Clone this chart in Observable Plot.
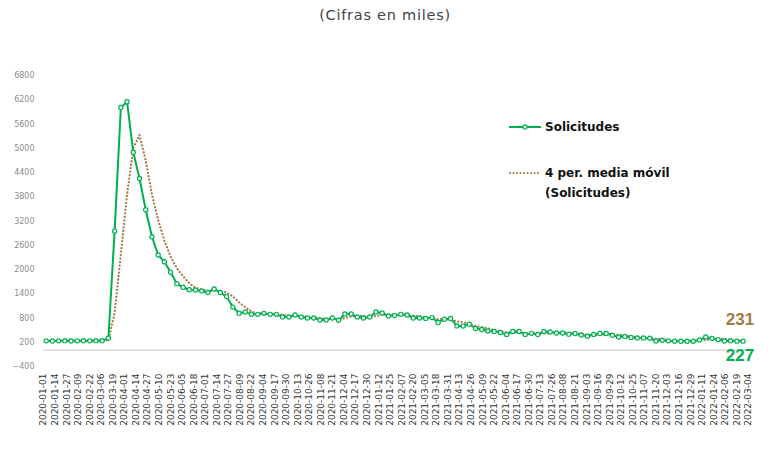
<!DOCTYPE html>
<html>
<head>
<meta charset="utf-8">
<script src="https://cdn.jsdelivr.net/npm/d3@7"></script>
<script src="https://cdn.jsdelivr.net/npm/@observablehq/plot@0.6"></script>
<style>
  html, body { margin: 0; padding: 0; background: #fff; }
  body { width: 770px; height: 454px; overflow: hidden; position: relative; font-family: "DejaVu Sans", sans-serif; }
  #title { position: absolute; top: 7px; left: 0; width: 770px; text-align: center; font-size: 14.5px; color: #444; letter-spacing: 0.75px; }
  #chart { position: absolute; top: 35px; left: 0; }
  .leg { position: absolute; font-family: "DejaVu Sans", sans-serif; font-weight: bold; font-size: 12px; color: #111; line-height: 20px; white-space: nowrap; }
  .legsw { position: absolute; }
</style>
</head>
<body>
<div id="title">(Cifras en miles)</div>
<div id="chart"></div>

<svg class="legsw" style="left:508px;top:121px" width="36" height="12">
  <line x1="1" x2="33" y1="6" y2="6" stroke="#00b050" stroke-width="2"></line>
  <circle cx="17" cy="6" r="2.1" fill="#fff" stroke="#00b050" stroke-width="1.2"></circle>
</svg>
<div class="leg" style="left:545px;top:117px">Solicitudes</div>
<svg class="legsw" style="left:508px;top:167px" width="36" height="12">
  <line x1="2" x2="32" y1="6" y2="6" stroke="#a27a45" stroke-width="2" stroke-dasharray="0.1 3.4" stroke-linecap="round"></line>
</svg>
<div class="leg" style="left:545px;top:163px">4 per. media móvil<br>(Solicitudes)</div>

<script>
// Weekly initial claims (thousands), weeks ending Saturday 2020-01-04 … 2022-02-26
const firstWeek = "2020-01-04";
const lastWeek = "2022-02-26";
const solicitudes = [
  235, 230, 235, 240, 230, 235, 240, 235, 240, 240, 300,
  2950, 6010, 6150, 4900, 4250, 3480, 2810, 2360, 2190, 1930, 1650, 1560,
  1500, 1490, 1470, 1430, 1520, 1430, 1330, 1070, 920, 950,
  890, 890, 915, 890, 890, 825, 825, 875, 825, 800,
  800, 750, 750, 800, 745, 900, 900, 825, 800, 825,
  950, 925, 850, 860, 890, 875, 800, 800, 790, 810,
  690, 770, 790, 605, 600, 645, 540, 515, 480, 465,
  440, 390, 465, 465, 390, 420, 390, 465, 455, 430,
  430, 400, 415, 380, 350, 390, 415, 415, 375, 330,
  345, 320, 305, 305, 300, 230, 250, 235, 225, 225,
  225, 225, 255, 330, 295, 265, 230, 240, 227, 227
];
const xTickLabels = [
  "2020-01-01","2020-01-14","2020-01-27","2020-02-09","2020-02-22","2020-03-06","2020-03-19","2020-04-01",
  "2020-04-14","2020-04-27","2020-05-10","2020-05-23","2020-06-05","2020-06-18","2020-07-01","2020-07-14",
  "2020-07-27","2020-08-09","2020-08-22","2020-09-04","2020-09-17","2020-09-30","2020-10-13","2020-10-26",
  "2020-11-08","2020-11-21","2020-12-04","2020-12-17","2020-12-30","2021-01-12","2021-01-25","2021-02-07",
  "2021-02-20","2021-03-05","2021-03-18","2021-03-31","2021-04-13","2021-04-26","2021-05-09","2021-05-22",
  "2021-06-04","2021-06-17","2021-06-30","2021-07-13","2021-07-26","2021-08-08","2021-08-21","2021-09-03",
  "2021-09-16","2021-09-29","2021-10-12","2021-10-25","2021-11-07","2021-11-20","2021-12-03","2021-12-16",
  "2021-12-29","2022-01-11","2022-01-24","2022-02-06","2022-02-19","2022-03-04"
];
const yTicks = [-400, 200, 800, 1400, 2000, 2600, 3200, 3800, 4400, 5000, 5600, 6200, 6800];
const endLabelMA = "231";
const endLabelLast = "227";

const green = "#00b050";
const brown = "#a27a45";

const weeks = d3.utcSaturday.range(new Date(firstWeek), d3.utcDay.offset(new Date(lastWeek), 1));
const data = solicitudes.map((v, i) => ({date: weeks[i], value: v}));
const last = data[data.length - 1];

const chart = Plot.plot({
  width: 770,
  height: 419,
  marginTop: 40,
  marginBottom: 88,
  marginLeft: 43,
  marginRight: 15,
  style: {fontFamily: "DejaVu Sans, sans-serif", background: "transparent", overflow: "visible"},
  x: {type: "utc", domain: [new Date("2020-01-01"), new Date("2022-03-12")], label: null},
  y: {domain: [-400, 6800], label: null},
  marks: [
    Plot.ruleY([0], {stroke: "#d9d9d9", strokeWidth: 1.5}),
    Plot.axisY({ticks: yTicks, tickSize: 0, tickPadding: 9, fontSize: 8, color: "#8c8c8c", tickFormat: d3.format("d"), label: null}),
    Plot.axisX({ticks: xTickLabels.map(d => new Date(d)), tickSize: 0, tickPadding: 7, tickRotate: -90, fontSize: 9, color: "#333", tickFormat: d3.utcFormat("%Y-%m-%d"), label: null}),
    Plot.lineY(data, Plot.windowY({k: 4, anchor: "end", reduce: "mean", strict: true},
      {x: "date", y: "value", stroke: brown, strokeWidth: 2.2, strokeDasharray: "0.1 3.4", strokeLinecap: "round"})),
    Plot.lineY(data, {x: "date", y: "value", stroke: green, strokeWidth: 2}),
    Plot.dot(data, {x: "date", y: "value", r: 2.1, fill: "#fff", stroke: green, strokeWidth: 1.2}),
    Plot.text([last], {x: "date", y: "value", text: () => endLabelMA, dy: -22, dx: -3, fill: brown, fontSize: 17, fontWeight: "bold", fontFamily: "Liberation Sans, Arial, sans-serif"}),
    Plot.text([last], {x: "date", y: "value", text: () => endLabelLast, dy: 14, dx: -3, fill: green, fontSize: 17, fontWeight: "bold", fontFamily: "Liberation Sans, Arial, sans-serif"})
  ]
});
document.getElementById("chart").appendChild(chart);
</script>
</body>
</html>
